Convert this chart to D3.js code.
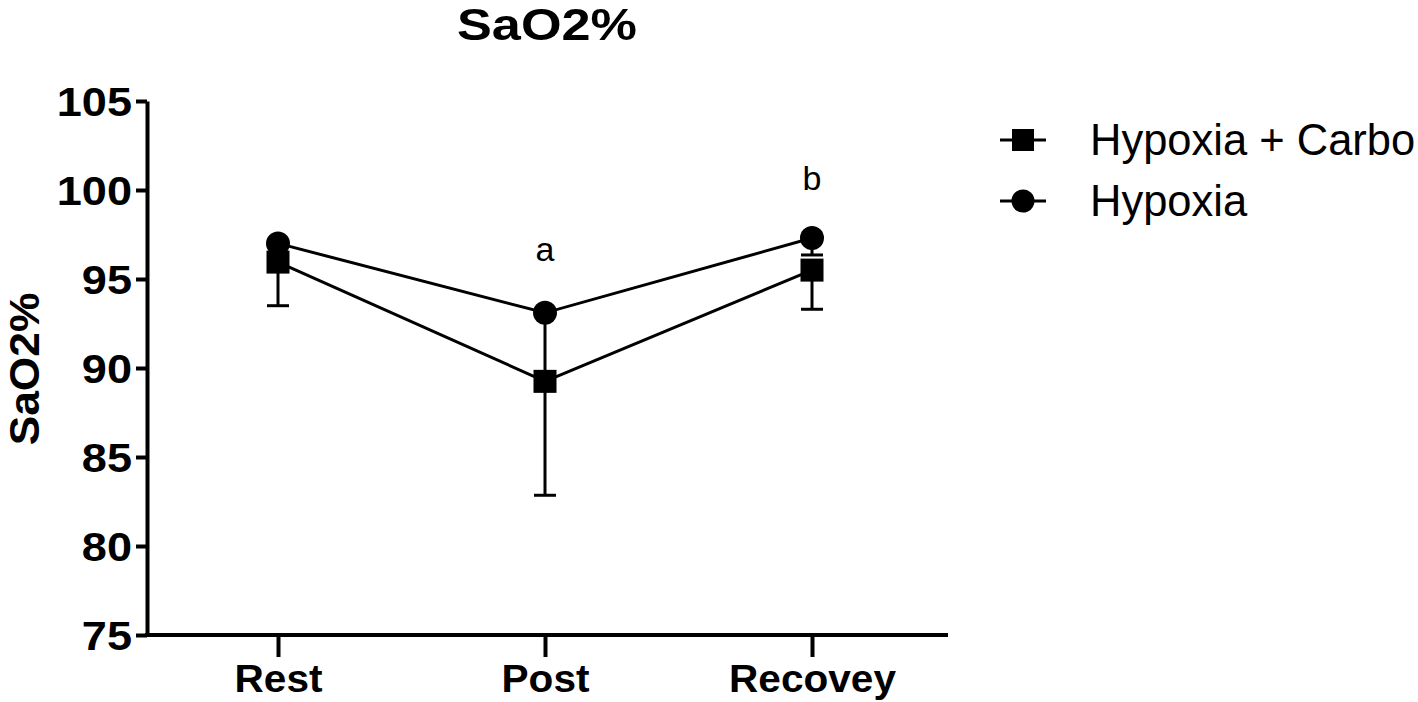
<!DOCTYPE html>
<html><head><meta charset="utf-8">
<script src="https://cdn.jsdelivr.net/npm/d3@7"></script>
<style>body{margin:0;background:#fff}svg{display:block}text{font-family:"Liberation Sans",Arial,sans-serif}</style>
</head><body>
<svg id="c" width="1418" height="702"></svg>
<script>
const categories = ["Rest", "Post", "Recovey"];
const carboMean = [95.95, 89.25, 95.5];
const carboErr = [2.45, 6.4, 2.2];
const hypoxiaMean = [97.0, 93.1, 97.3];
const hypoxiaErr = [0.7, 3.5, 0.95];
const yTicks = [75, 80, 85, 90, 95, 100, 105];
const seriesNames = ["Hypoxia + Carbo", "Hypoxia"];
const annotations = [{cat: "Post", value: 96.0, text: "a"}, {cat: "Recovey", value: 100.0, text: "b"}];

const svg = d3.select("#c");
const x = d3.scalePoint().domain(categories).range([278, 812]);
const y = d3.scaleLinear().domain([75, 105]).range([635, 101]);
const axisX0 = 147, axisX1 = 948;

function widen(sel, f) {
  sel.each(function () {
    const w = this.getComputedTextLength();
    d3.select(this).attr("textLength", w * f).attr("lengthAdjust", "spacingAndGlyphs");
  });
}

// title
const title = svg.append("text").attr("x", 547).attr("y", 40).attr("text-anchor", "middle")
  .attr("font-size", 45).attr("font-weight", "bold").text("SaO2%");
widen(title, 1.16);

// y axis label
const ylab = svg.append("text").attr("transform", "translate(39,369) rotate(-90)").attr("text-anchor", "middle")
  .attr("font-size", 43).attr("font-weight", "bold").text("SaO2%");
widen(ylab, 1.03);

// y axis
const gy = svg.append("g").attr("transform", `translate(${axisX0},0)`)
  .call(d3.axisLeft(y).tickValues(yTicks).tickSize(11).tickPadding(4).tickSizeOuter(0));
gy.select(".domain").attr("stroke-width", 4).attr("stroke", "#000");
gy.selectAll(".tick line").attr("stroke-width", 4);
gy.selectAll(".tick text").attr("font-size", 41).attr("font-weight", "bold").attr("fill", "#000")
  .attr("font-family", "Liberation Sans, Arial, sans-serif").attr("dy", "0.36em");
widen(gy.selectAll(".tick text"), 1.1);

// x axis
const gx = svg.append("g").attr("transform", `translate(0,${y(75)})`)
  .call(d3.axisBottom(x).tickSize(22).tickPadding(7));
gx.select(".domain").remove();
gx.selectAll(".tick line").attr("stroke-width", 4);
gx.selectAll(".tick text").attr("font-size", 39).attr("font-weight", "bold").attr("fill", "#000")
  .attr("font-family", "Liberation Sans, Arial, sans-serif");
widen(gx.selectAll(".tick text"), 1.04);
svg.append("line").attr("x1", axisX0 - 2).attr("x2", axisX1).attr("y1", y(75)).attr("y2", y(75))
  .attr("stroke", "#000").attr("stroke-width", 4);

const line = d3.line().x(d => x(d.c)).y(d => y(d.v));
const carbo = categories.map((c, i) => ({c, v: carboMean[i], e: carboErr[i]}));
const hyp = categories.map((c, i) => ({c, v: hypoxiaMean[i], e: hypoxiaErr[i]}));

function errBars(data) {
  const g = svg.append("g").attr("stroke", "#000").attr("stroke-width", 3);
  data.forEach(d => {
    g.append("line").attr("x1", x(d.c)).attr("x2", x(d.c)).attr("y1", y(d.v)).attr("y2", y(d.v - d.e));
    g.append("line").attr("x1", x(d.c) - 11).attr("x2", x(d.c) + 11).attr("y1", y(d.v - d.e)).attr("y2", y(d.v - d.e));
  });
}
errBars(carbo);
errBars(hyp);

svg.append("path").datum(carbo).attr("d", line).attr("fill", "none").attr("stroke", "#000").attr("stroke-width", 3);
svg.append("path").datum(hyp).attr("d", line).attr("fill", "none").attr("stroke", "#000").attr("stroke-width", 3);

svg.selectAll(".sq").data(carbo).join("rect").attr("class", "sq")
  .attr("x", d => x(d.c) - 11.5).attr("y", d => y(d.v) - 11.5).attr("width", 23).attr("height", 23).attr("fill", "#000");
svg.selectAll(".ci").data(hyp).join("circle").attr("class", "ci")
  .attr("cx", d => x(d.c)).attr("cy", d => y(d.v)).attr("r", 12).attr("fill", "#000");

// annotations
svg.selectAll(".ann").data(annotations).join("text").attr("class", "ann")
  .attr("x", d => x(d.cat)).attr("y", d => y(d.value)).attr("text-anchor", "middle")
  .attr("font-size", 34).text(d => d.text);

// legend
const leg = svg.append("g");
seriesNames.forEach((n, i) => {
  const cy = 140 + i * 61;
  leg.append("line").attr("x1", 1000).attr("x2", 1046).attr("y1", cy).attr("y2", cy).attr("stroke", "#000").attr("stroke-width", 3);
  if (i === 0) leg.append("rect").attr("x", 1012).attr("y", cy - 11).attr("width", 22).attr("height", 22).attr("fill", "#000");
  else leg.append("circle").attr("cx", 1023).attr("cy", cy).attr("r", 11.5).attr("fill", "#000");
  leg.append("text").attr("x", 1090).attr("y", cy + 15).attr("font-size", 43.5).text(n);
});
</script>
</body></html>
